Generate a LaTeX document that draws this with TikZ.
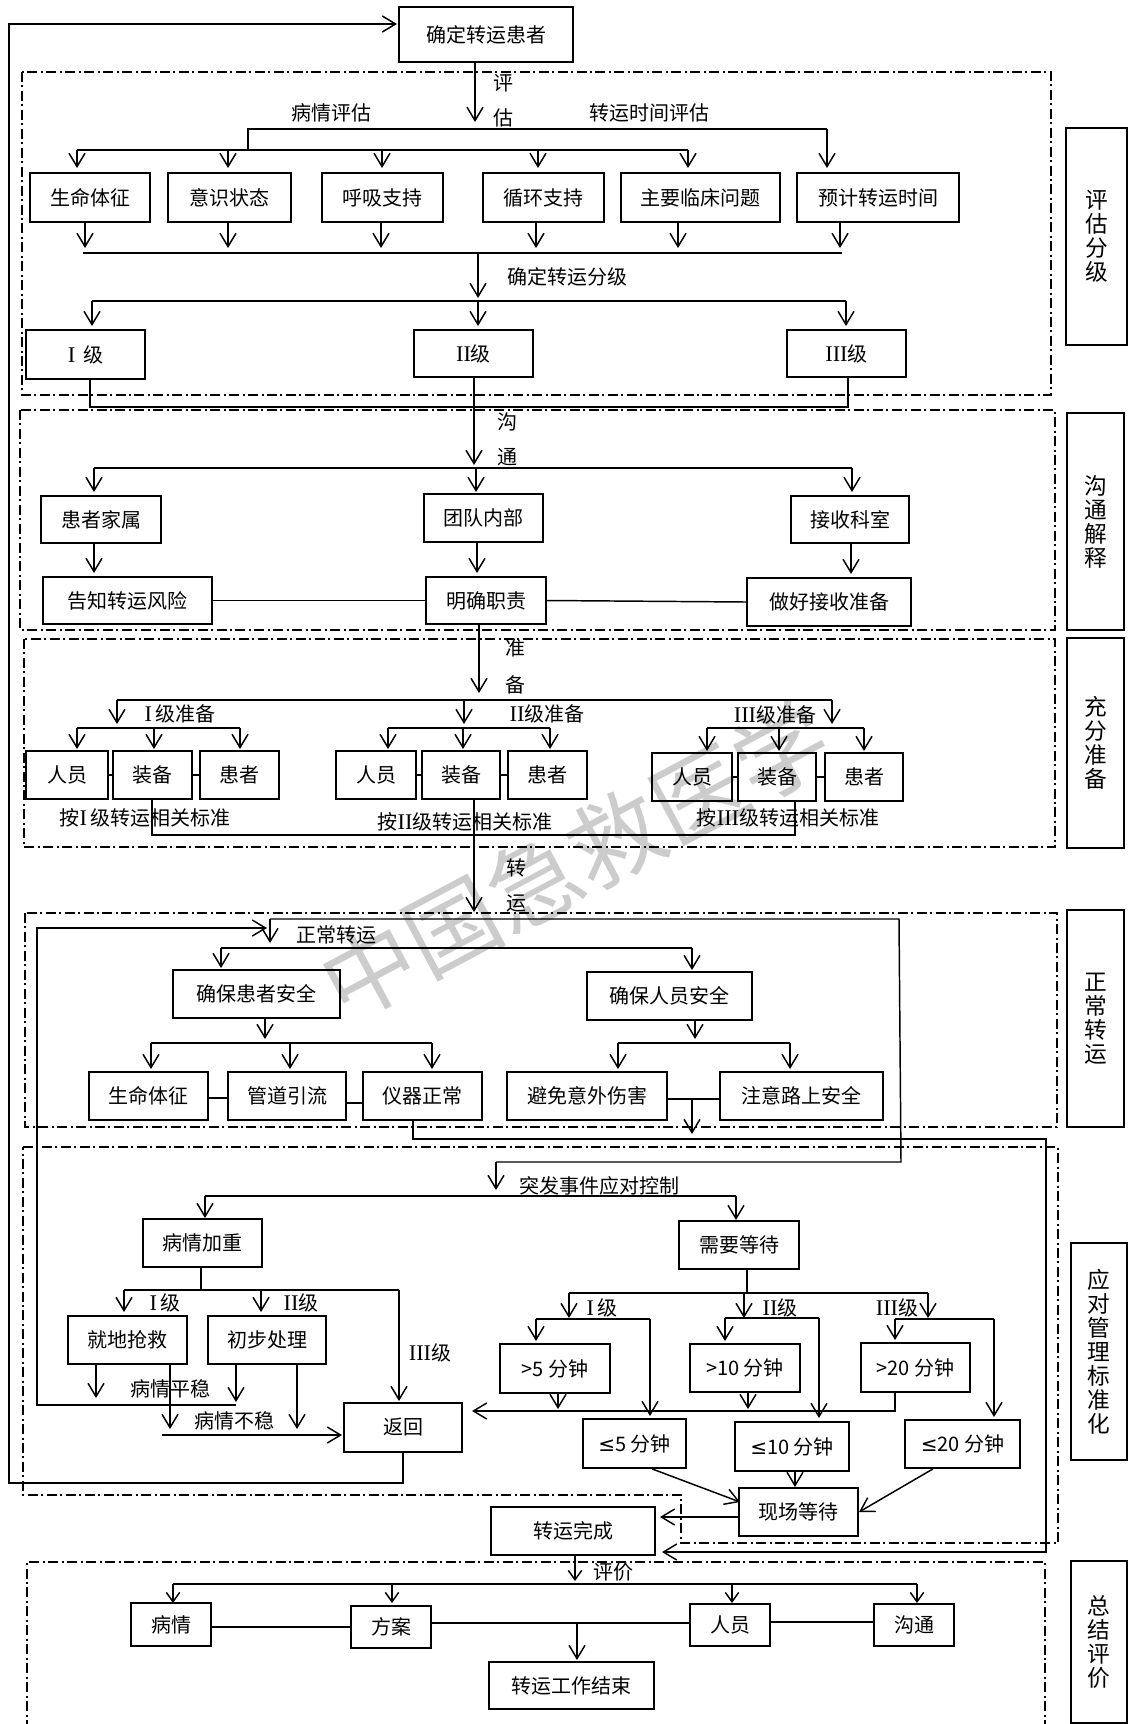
\documentclass[tikz,border=0pt]{standalone}
\usepackage{fontspec}
\setmainfont{Noto Sans CJK SC}
\newfontfamily\rmn[Scale=1.12]{Liberation Serif}
\newfontfamily\djv{DejaVu Sans}
\usetikzlibrary{arrows.meta}
\newcommand\mybox[7][bx]{\node[#1, minimum width={(#5-#3)*0.75pt}, minimum height={(#6-#4)*0.75pt}] (#2) at ({(#3+#5)/2},{(#4+#6)/2}) {#7};}
\tikzset{
 bx/.style={draw, line width=1.3pt, inner sep=0pt, font=\fontsize{15}{16}\selectfont},
 side/.style={draw, line width=1.3pt, inner sep=0pt, align=center, font=\fontsize{17}{18}\selectfont},
 ln/.style={line width=1.1pt},
 ar/.style={ln, -{Straight Barb[length=10pt,width=12pt]}},
 sar/.style={ln, -{Straight Barb[length=7pt,width=10pt]}},
 dd/.style={line width=1.2pt, dash pattern=on 7.5pt off 2.6pt on 1.5pt off 2.6pt},
 lbl/.style={inner sep=0pt, font=\fontsize{15}{16}\selectfont},
}
\begin{document}
\begin{tikzpicture}[x=0.75pt,y=-0.75pt]
\useasboundingbox (0,0) rectangle (1128,1724);
% watermark
\node[rotate=28, text=black!20, inner sep=0pt, font=\fontsize{70}{70}\selectfont] (wm) at (575,860) {中国急救医学};
% ---------- nodes ----------
\mybox{T0}{399}{7}{573}{62}{确定转运患者}
\mybox{a1}{30}{173}{150}{222}{生命体征}
\mybox{a2}{168}{173}{291}{222}{意识状态}
\mybox{a3}{322}{173}{443}{222}{呼吸支持}
\mybox{a4}{483}{173}{604}{222}{循环支持}
\mybox{a5}{621}{173}{780}{222}{主要临床问题}
\mybox{a6}{797}{173}{959}{222}{预计转运时间}
\mybox{g1}{26}{330}{145}{379}{{\rmn I}\, 级}
\mybox{g2}{414}{330}{533}{377}{{\rmn II}级}
\mybox{g3}{787}{330}{906}{377}{{\rmn III}级}
\mybox{c1}{41}{496}{161}{543}{患者家属}
\mybox{c2}{424}{494}{543}{542}{团队内部}
\mybox{c3}{791}{496}{909}{543}{接收科室}
\mybox{d1}{43}{577}{212}{624}{告知转运风险}
\mybox{d2}{426}{577}{546}{624}{明确职责}
\mybox{d3}{747}{578}{911}{626}{做好接收准备}
\mybox{p11}{26}{751}{108}{799}{人员}
\mybox{p12}{113}{751}{192}{799}{装备}
\mybox{p13}{200}{751}{279}{799}{患者}
\mybox{p21}{336}{751}{416}{799}{人员}
\mybox{p22}{422}{751}{500}{799}{装备}
\mybox{p23}{508}{751}{587}{799}{患者}
\mybox{p31}{652}{753}{732}{801}{人员}
\mybox{p32}{738}{753}{816}{801}{装备}
\mybox{p33}{825}{753}{903}{801}{患者}
\mybox{e1}{173}{970}{340}{1018}{确保患者安全}
\mybox{e2}{587}{972}{752}{1020}{确保人员安全}
\mybox{f1}{89}{1072}{208}{1120}{生命体征}
\mybox{f2}{228}{1072}{346}{1120}{管道引流}
\mybox{f3}{363}{1072}{482}{1120}{仪器正常}
\mybox{f4}{507}{1072}{667}{1120}{避免意外伤害}
\mybox{f5}{720}{1072}{883}{1120}{注意路上安全}
\mybox{h1}{143}{1219}{262}{1267}{病情加重}
\mybox{h2}{679}{1221}{799}{1269}{需要等待}
\mybox{i1}{68}{1316}{187}{1364}{就地抢救}
\mybox{i2}{208}{1316}{326}{1364}{初步处理}
\mybox{ret}{344}{1403}{462}{1452}{返回}
\mybox{j1}{500}{1344}{610}{1393}{>5 分钟}
\mybox{j2}{690}{1344}{800}{1392}{>10 分钟}
\mybox{j3}{861}{1343}{970}{1392}{>20 分钟}
\mybox{k1}{583}{1419}{686}{1468}{{\djv ≤}5 分钟}
\mybox{k2}{735}{1422}{849}{1471}{{\djv ≤}10 分钟}
\mybox{k3}{905}{1420}{1020}{1468}{{\djv ≤}20 分钟}
\mybox{w}{739}{1488}{858}{1536}{现场等待}
\mybox{done}{491}{1507}{655}{1555}{转运完成}
\mybox{s1}{131}{1603}{211}{1646}{病情}
\mybox{s2}{351}{1606}{431}{1648}{方案}
\mybox{s3}{690}{1604}{770}{1646}{人员}
\mybox{s4}{874}{1604}{954}{1646}{沟通}
\mybox{endb}{489}{1662}{654}{1709}{转运工作结束}
% side labels
\mybox[side]{L1}{1066}{128}{1127}{345}{评\\估\\分\\级}
\mybox[side]{L2}{1067}{413}{1124}{630}{沟\\通\\解\\释}
\mybox[side]{L3}{1067}{638}{1124}{848}{充\\分\\准\\备}
\mybox[side]{L4}{1067}{910}{1124}{1127}{正\\常\\转\\运}
\mybox[side]{L5}{1071}{1243}{1127}{1460}{应\\对\\管\\理\\标\\准\\化}
\mybox[side]{L6}{1071}{1561}{1127}{1723}{总\\结\\评\\价}
% ---------- dashed regions ----------
\draw[dd] (22,72) rectangle (1051,395);
\draw[dd] (20,410) rectangle (1055,630);
\draw[dd] (24,639) rectangle (1055,847);
\draw[dd] (25,913) rectangle (1057,1127);
\draw[dd] (23,1147) -- (1058,1147) -- (1058,1543) -- (681,1543) -- (681,1495) -- (23,1495) -- cycle;
\draw[dd] (27,1730) -- (27,1562) -- (1045,1562) -- (1045,1730);
% ---------- outer loop ----------
\coordinate (t0in) at (397,24);
\draw[ar] (ret.south) |- (9,1483) |- (t0in);
% ---------- section 1 ----------
\draw[ar] (T0.south -| 475,0) -- (475,122);
\node[lbl] at (503,83) {评};
\node[lbl] at (503,118) {估};
\draw[ln] (248,150) |- (827,129);
\draw[ar] (827,129) -- (827,168);
\draw[ln] (77,150) -- (688,150);
\foreach \x in {77,228,382,538,688} \draw[ar] (\x,150) -- (\x,168);
\node[lbl] at (331,113) {病情评估};
\node[lbl] at (649,113) {转运时间评估};
\foreach \n/\x in {a1/85,a2/228,a3/381,a4/536,a5/678,a6/840} \draw[ar] (\n.south -| \x,0) -- (\x,248);
\draw[ln] (83,253) -- (842,253);
\draw[ar] (478,253) -- (478,298);
\node[lbl] at (567,277) {确定转运分级};
\draw[ln] (92,301) -- (846,301);
\foreach \x in {92,478,846} \draw[ar] (\x,301) -- (\x,326);
\draw[ln] (g1.south -| 90,0) |- (848,407) -- (g3.south -| 848,0);
\draw[ar] (g2.south -| 474,0) -- (474,465);
\node[lbl] at (507,422) {沟};
\node[lbl] at (507,457) {通};
% ---------- section 2 ----------
\draw[ln] (94,468) -- (852,468);
\foreach \x in {94,476,852} \draw[ar] (\x,468) -- (\x,492);
\draw[ar] (c1.south -| 94,0) -- (94,573);
\draw[ar] (c2.south -| 477,0) -- (477,573);
\draw[ar] (c3.south -| 851,0) -- (851,574);
\draw[ln] (d1.east) -- (d2.west);
\draw[ln] (d2.east) -- (d3.west);
% ---------- section 3 ----------
\draw[ar] (d2.south -| 479,0) -- (479,693);
\node[lbl] at (515,648) {准};
\node[lbl] at (515,685) {备};
\draw[ln] (117,700) -- (832,700);
\foreach \x in {117,464,832} \draw[ar] (\x,700) -- (\x,724);
\node[lbl] at (180,714) {{\rmn I}\,级准备};
\node[lbl] at (547,714) {{\rmn II}级准备};
\node[lbl] at (775,715) {{\rmn III}级准备};
\draw[ln] (77,728) -- (240,728);
\draw[ln] (388,728) -- (550,728);
\draw[ln] (707,728) -- (864,728);
\foreach \x in {77,154,240,388,463,550} \draw[ar] (\x,728) -- (\x,749);
\foreach \x in {707,779,864} \draw[ar] (\x,728) -- (\x,751);
\draw[ln] (p11.east) -- (p12.west);
\draw[ln] (p12.east) -- (p13.west);
\draw[ln] (p21.east) -- (p22.west);
\draw[ln] (p22.east) -- (p23.west);
\draw[ln] (p31.east) -- (p32.west);
\draw[ln] (p32.east) -- (p33.west);
\node[lbl] at (145,818) {按{\rmn I}\,级转运相关标准};
\node[lbl] at (465,822) {按{\rmn II}级转运相关标准};
\node[lbl] at (788,818) {按{\rmn III}级转运相关标准};
\draw[ln] (p12.south -| 152,0) |- (795,835) -- (p32.south -| 795,0);
\draw[ar] (p22.south -| 474,0) -- (474,912);
\node[lbl] at (516,868) {转};
\node[lbl] at (516,903) {运};
% ---------- section 4 ----------
\draw[ln] (270,919) -- (899,919) -- (901,1162) -- (496,1162);
\draw[ar] (496,1162) -- (496,1190);
\draw[ar] (270,919) -- (270,943);
\node[lbl] at (336,935) {正常转运};
\draw[ar] (i2.south -| 236,0) -- (236,1402);
\draw[ar] (236,1405) -- (37,1405) -- (37,928) -- (267,928);
\draw[ln] (221,948) -- (692,948);
\draw[ar] (221,948) -- (221,968);
\draw[ar] (692,948) -- (692,970);
\draw[ar] (e1.south -| 265,0) -- (265,1039);
\draw[ln] (151,1043) -- (432,1043);
\foreach \x in {151,290,432} \draw[ar] (\x,1043) -- (\x,1069);
\draw[ar] (e2.south -| 695,0) -- (695,1039);
\draw[ln] (618,1043) -- (790,1043);
\foreach \x in {618,790} \draw[ar] (\x,1043) -- (\x,1069);
\draw[ln] (f1.east |- 0,1098) -- (f2.west |- 0,1098);
\draw[ln] (f2.east |- 0,1103) -- (f3.west |- 0,1103);
\draw[ln] (f4.east |- 0,1099) -- (f5.west |- 0,1099);
\draw[ar] (692,1099) -- (692,1134);
\draw[ar] (f3.south -| 413,0) |- (1046,1139) -- (1046,1552) -- (662,1552);
% ---------- section 5 ----------
\node[lbl] at (599,1186) {突发事件应对控制};
\draw[ln] (205,1196) -- (736,1196);
\draw[ar] (205,1196) -- (205,1218);
\draw[ar] (736,1196) -- (736,1220);
\draw[ln] (h1.south -| 201,0) -- (201,1290);
\draw[ln] (124,1290) -- (399,1290);
\draw[ar] (124,1290) -- (124,1312);
\draw[ar] (261,1290) -- (261,1312);
\draw[ar] (399,1290) -- (399,1401);
\node[lbl] at (165,1303) {{\rmn I}\,级};
\node[lbl] at (301,1303) {{\rmn II}级};
\node[lbl] at (430,1353) {{\rmn III}级};
\draw[ar] (i1.south -| 96,0) -- (96,1398);
\draw[ar] (i1.south -| 170,0) -- (170,1429);
\draw[ar] (i2.south -| 297,0) -- (297,1429);
\node[lbl] at (170,1389) {病情平稳};
\node[lbl] at (234,1421) {病情不稳};
\draw[ar] (162,1435) -- (342,1435);
\draw[ln] (h2.south -| 747,0) -- (747,1293);
\draw[ln] (569,1293) -- (928,1293);
\foreach \x in {569,744,928} \draw[ar] (\x,1293) -- (\x,1318);
\node[lbl] at (602,1308) {{\rmn I}\,级};
\node[lbl] at (780,1308) {{\rmn II}级};
\node[lbl] at (897,1308) {{\rmn III}级};
\draw[ln] (536,1319) -- (650,1319);
\draw[ln] (725,1318) -- (819,1318);
\draw[ln] (895,1319) -- (994,1319);
\draw[ar] (536,1319) -- (536,1341);
\draw[ar] (650,1319) -- (650,1416);
\draw[ar] (725,1318) -- (725,1341);
\draw[ar] (819,1318) -- (819,1418);
\draw[ar] (895,1319) -- (895,1340);
\draw[ar] (994,1319) -- (994,1417);
\draw[ar] (j3.south -| 895,0) -- (895,1411) -- (472,1411);
\draw[ar] (j1.south -| 558,0) -- (558,1409);
\draw[ar] (j2.south -| 748,0) -- (748,1409);
\draw[ar] (k1.south -| 652,0) -- (740,1502);
\draw[ar] (k2.south -| 795,0) -- (795,1487);
\draw[ar] (k3.south -| 933,0) -- (859,1512);
\draw[ar] (w.west |- 0,1517) -- (660,1517);
% ---------- section 6 ----------
\draw[sar] (done.south -| 575,0) -- (575,1581);
\node[lbl] at (613,1572) {评价};
\draw[ln] (173,1584) -- (917,1584);
\foreach \x in {173,392,732,917} \draw[sar] (\x,1584) -- (\x,1603);
\draw[ln] (s1.east |- 0,1627) -- (s2.west |- 0,1627);
\draw[ln] (s2.east |- 0,1623) -- (s3.west |- 0,1623);
\draw[ln] (s3.east |- 0,1622) -- (s4.west |- 0,1622);
\draw[ar] (577,1623) -- (577,1660);
\end{tikzpicture}
\end{document}
